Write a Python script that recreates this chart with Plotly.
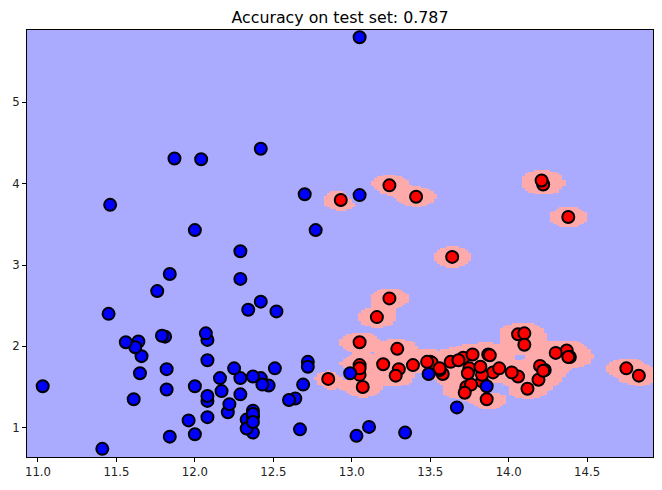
"""
decision regions of a two-class wine classifier (alcohol vs malic acid)
points coloured by class, background = predicted class on a mesh
"""
import numpy as np
import plotly.graph_objects as go

# class 0 (red)
red_alcohol = [14.23, 13.2, 13.16, 14.37, 13.24, 14.2, 14.39, 14.06, 14.83, 13.86,
               14.1, 14.12, 13.75, 14.75, 14.38, 13.63, 14.3, 13.83, 14.19, 13.64,
               14.06, 12.93, 13.71, 12.85, 13.5, 13.05, 13.39, 13.3, 13.87, 14.02,
               13.73, 13.58, 13.68, 13.76, 13.51, 13.48, 13.28, 13.05, 13.07, 14.22,
               13.56, 13.41, 13.88, 13.24, 13.05, 14.21, 14.38, 13.9, 14.1, 13.94,
               13.05, 13.83, 13.82, 13.77, 13.74, 13.56, 14.22, 13.29, 13.72]
red_malic = [1.71, 1.78, 2.36, 1.95, 2.59, 1.76, 1.87, 2.15, 1.64, 1.35,
             2.16, 1.48, 1.73, 1.73, 1.87, 1.81, 1.92, 1.57, 1.59, 3.1,
             1.63, 3.8, 1.86, 1.6, 1.81, 2.05, 1.77, 1.72, 1.9, 1.68,
             1.5, 1.66, 1.83, 1.53, 1.8, 1.81, 1.64, 1.65, 1.5, 3.99,
             1.71, 3.84, 1.89, 3.98, 1.77, 4.04, 3.59, 1.68, 2.02, 1.73,
             1.73, 1.65, 1.75, 1.9, 1.67, 1.73, 1.7, 1.97, 1.43]

# class 1 (blue)
blue_alcohol = [12.37, 12.33, 12.64, 13.67, 12.37, 12.17, 12.37, 13.11, 12.37, 13.34,
                12.21, 12.29, 13.86, 13.49, 12.99, 11.96, 11.66, 13.03, 11.84, 12.33,
                12.7, 12.0, 12.72, 12.08, 13.05, 11.84, 12.67, 12.16, 11.65, 11.64,
                12.08, 12.08, 12.0, 12.69, 12.29, 11.62, 12.47, 11.81, 12.29, 12.37,
                12.29, 12.08, 12.6, 12.34, 11.82, 12.51, 12.42, 12.25, 12.72, 12.22,
                11.61, 11.46, 12.52, 11.76, 11.41, 12.08, 11.03, 11.82, 12.42, 12.77,
                12.0, 11.45, 11.56, 12.42, 13.05, 11.87, 12.07, 12.43, 11.79, 12.37,
                12.04]
blue_malic = [0.94, 1.1, 1.36, 1.25, 1.13, 1.45, 1.21, 1.01, 1.17, 0.94,
              1.19, 1.61, 1.51, 1.66, 1.67, 1.09, 1.88, 0.9, 2.89, 0.99,
              3.87, 0.92, 1.81, 1.13, 3.86, 0.89, 0.98, 1.61, 1.67, 2.06,
              1.33, 1.83, 1.51, 1.53, 2.83, 1.99, 1.52, 2.12, 1.41, 1.07,
              3.17, 2.08, 1.34, 2.45, 1.72, 1.73, 2.55, 1.73, 1.75, 1.29,
              1.35, 3.74, 2.43, 2.68, 0.74, 1.39, 1.51, 1.47, 1.61, 3.43,
              3.43, 2.4, 2.05, 4.43, 5.8, 4.31, 2.16, 1.53, 2.13, 1.63,
              4.3]

title = "Accuracy on test set: 0.787"


def _kernel_sum(gx, gy, px, py, gamma):
    """sum of rbf kernels from each point, evaluated on the mesh"""
    px = np.asarray(px)[None, None, :]
    py = np.asarray(py)[None, None, :]
    d2 = (gx[:, :, None] - px) ** 2 + (gy[:, :, None] - py) ** 2
    return np.exp(-gamma * d2).sum(axis=2)


# mesh like the usual meshgrid with step h
h = 0.02
all_x = red_alcohol + blue_alcohol
all_y = red_malic + blue_malic
x_min, x_max = min(all_x) - 0.1, max(all_x) + 0.1
y_min, y_max = min(all_y) - 0.1, max(all_y) + 0.1
xs = np.arange(x_min, x_max, h)
ys = np.arange(y_min, y_max, h)
gx, gy = np.meshgrid(xs, ys)

gamma = 140
thresh = np.exp(-gamma * 0.125 ** 2)
score = (_kernel_sum(gx, gy, red_alcohol, red_malic, gamma)
         - _kernel_sum(gx, gy, blue_alcohol, blue_malic, gamma))
region = (score > thresh).astype(int)  # 1 = red class

fig = go.Figure()
fig.add_trace(go.Heatmap(
    x=xs, y=ys, z=region, zmin=0, zmax=1, zsmooth=False,
    colorscale=[[0, "#AAAAFF"], [0.5, "#AAAAFF"], [0.5, "#FFAAAA"], [1, "#FFAAAA"]],
    showscale=False, hoverinfo="skip"))
fig.add_trace(go.Scatter(
    x=red_alcohol, y=red_malic, mode="markers",
    marker=dict(size=12, color="#FF0000", line=dict(color="black", width=2))))
fig.add_trace(go.Scatter(
    x=blue_alcohol, y=blue_malic, mode="markers",
    marker=dict(size=12, color="#0000FF", line=dict(color="black", width=2))))

axis_style = dict(showline=True, mirror=True, linecolor="black", linewidth=1,
                  ticks="outside", ticklen=4, tickcolor="black",
                  showgrid=False, zeroline=False, automargin=False,
                  tickfont=dict(family="DejaVu Sans", size=11.7, color="#222"))
fig.update_xaxes(range=[x_min, xs[-1] + h / 2], tickvals=np.arange(11.0, 14.6, 0.5),
                 tickformat=".1f", **axis_style)
fig.update_yaxes(range=[y_min, ys[-1] + h / 2], tickvals=[1, 2, 3, 4, 5], **axis_style)
# page body has an 8px margin, so the figure is a bit smaller than the window
fig.update_layout(
    width=654, height=482, autosize=False,
    margin=dict(l=19, r=9, t=22, b=33),
    paper_bgcolor="white", plot_bgcolor="#AAAAFF",
    showlegend=False,
    title=dict(text=title, xref="paper", x=0.5, xanchor="center",
               y=0.9813, yanchor="middle",
               font=dict(family="DejaVu Sans", size=15.8, color="black")))
fig.write_html("out.html")
